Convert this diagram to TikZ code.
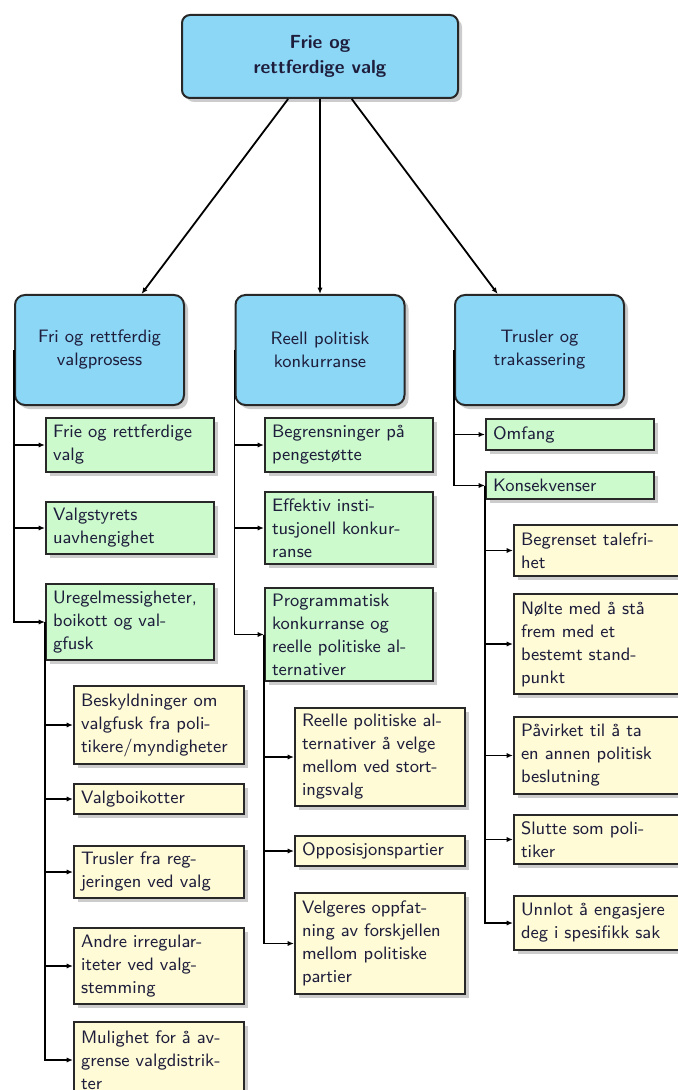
\documentclass[tikz,border=0pt]{standalone}
\usepackage{fontspec}
\usetikzlibrary{shadows,arrows.meta}
\definecolor{topblue}{RGB}{140,214,246}
\definecolor{leafgreen}{RGB}{204,250,204}
\definecolor{leafyellow}{RGB}{255,251,214}
\definecolor{boxline}{RGB}{40,40,40}
\definecolor{txt}{RGB}{30,30,60}
\tikzset{
  base/.style={draw=boxline, line width=1pt, text=txt,
    font=\sffamily\fontsize{9}{11.5}\selectfont,
    drop shadow={shadow xshift=2pt, shadow yshift=-2pt, fill=black, opacity=0.2}},
  rootbox/.style={base, fill=topblue, rounded corners=4pt, align=center,
    minimum width=138pt, minimum height=41.5pt, font=\sffamily\bfseries\fontsize{9.5}{12.5}\selectfont},
  headbox/.style={base, fill=topblue, rounded corners=5pt, align=center,
    minimum width=84.5pt, minimum height=55pt},
  greenbox/.style={base, fill=leafgreen, anchor=north west, align=left,
    text width=77pt, inner xsep=3.5pt, inner ysep=2pt},
  yellowbox/.style={base, fill=leafyellow, anchor=north west, align=left,
    text width=78pt, inner xsep=3.5pt, inner ysep=2pt},
  link/.style={line width=0.9pt, draw=black, -{Latex[length=3.2pt,width=2.6pt]}}
}
\begin{document}
\begin{tikzpicture}[x=0.5pt, y=-0.5pt]
\useasboundingbox (0,0) rectangle (678,1090);

% top of the tree
\node[rootbox] (root) at (320,56.5) {Frie og\\rettferdige valg};

% three main branches
\node[headbox] (fri)  at (99.5,350) {Fri og rettferdig\\valgprosess};
\node[headbox] (reell) at (320,350) {Reell politisk\\konkurranse};
\node[headbox] (trus) at (539.5,350) {Trusler og\\trakassering};

% branch 1
\node[greenbox, minimum height=27pt] (g11) at (45,417) {Frie og rettferdige\\valg};
\node[greenbox, minimum height=26pt] (g12) at (45,501) {Valgstyrets\\uavhengighet};
\node[greenbox, minimum height=38pt] (g13) at (45,583) {Uregelmessigheter,\\boikott og val-\\gfusk};

\node[yellowbox, minimum height=39pt] (y11) at (73,685) {Beskyldninger om\\valgfusk fra poli-\\tikere/myndigheter};
\node[yellowbox, minimum height=15pt] (y12) at (73,783) {Valgboikotter};
\node[yellowbox, minimum height=26pt] (y13) at (73,845) {Trusler fra reg-\\jeringen ved valg};
\node[yellowbox, minimum height=38pt] (y14) at (73,927) {Andre irregular-\\iteter ved valg-\\stemming};
\node[yellowbox, minimum height=38pt] (y15) at (73,1021) {Mulighet for å av-\\grense valgdistrik-\\ter};

% branch 2
\node[greenbox, minimum height=27pt] (g21) at (264,417) {Begrensninger på\\pengestøtte};
\node[greenbox, minimum height=36pt] (g22) at (264,491) {Effektiv insti-\\tusjonell konkur-\\ranse};
\node[greenbox, minimum height=46.5pt] (g23) at (264,587) {Programmatisk\\konkurranse og\\reelle politiske al-\\ternativer};

\node[yellowbox, minimum height=49pt] (y21) at (294,707) {Reelle politiske al-\\ternativer å velge\\mellom ved stort-\\ingsvalg};
\node[yellowbox, minimum height=15pt] (y22) at (294,835) {Opposisjonspartier};
\node[yellowbox, minimum height=50.5pt] (y23) at (294,892) {Velgeres oppfat-\\ning av forskjellen\\mellom politiske\\partier};

% branch 3
\node[greenbox, minimum height=15.5pt] (g31) at (485,418) {Omfang};
\node[greenbox, minimum height=13.5pt] (g32) at (485,471) {Konsekvenser};

\node[yellowbox, minimum height=25.5pt] (y31) at (513,524) {Begrenset talefri-\\het};
\node[yellowbox, minimum height=50pt] (y32) at (513,593) {Nølte med å stå\\frem med et\\bestemt stand-\\punkt};
\node[yellowbox, minimum height=38.5pt] (y33) at (513,716) {Påvirket til å ta\\en annen politisk\\beslutning};
\node[yellowbox, minimum height=24.5pt] (y34) at (513,814) {Slutte som poli-\\tiker};
\node[yellowbox, minimum height=27pt] (y35) at (513,895) {Unnlot å engasjere\\deg i spesifikk sak};

% connectors
\foreach \c in {fri,reell,trus} \draw[link] (root) -- (\c);
\foreach \c in {g11,g12,g13} \draw[link] (fri.west) |- (\c.west);
\foreach \c in {y11,y12,y13,y14,y15} \draw[link] (g13.west) |- (\c.west);
\foreach \c in {g21,g22,g23} \draw[link] (reell.west) |- (\c.west);
\foreach \c in {y21,y22,y23} \draw[link] (g23.west) |- (\c.west);
\foreach \c in {g31,g32} \draw[link] (trus.west) |- (\c.west);
\foreach \c in {y31,y32,y33,y34,y35} \draw[link] (g32.west) |- (\c.west);
\end{tikzpicture}
\end{document}
